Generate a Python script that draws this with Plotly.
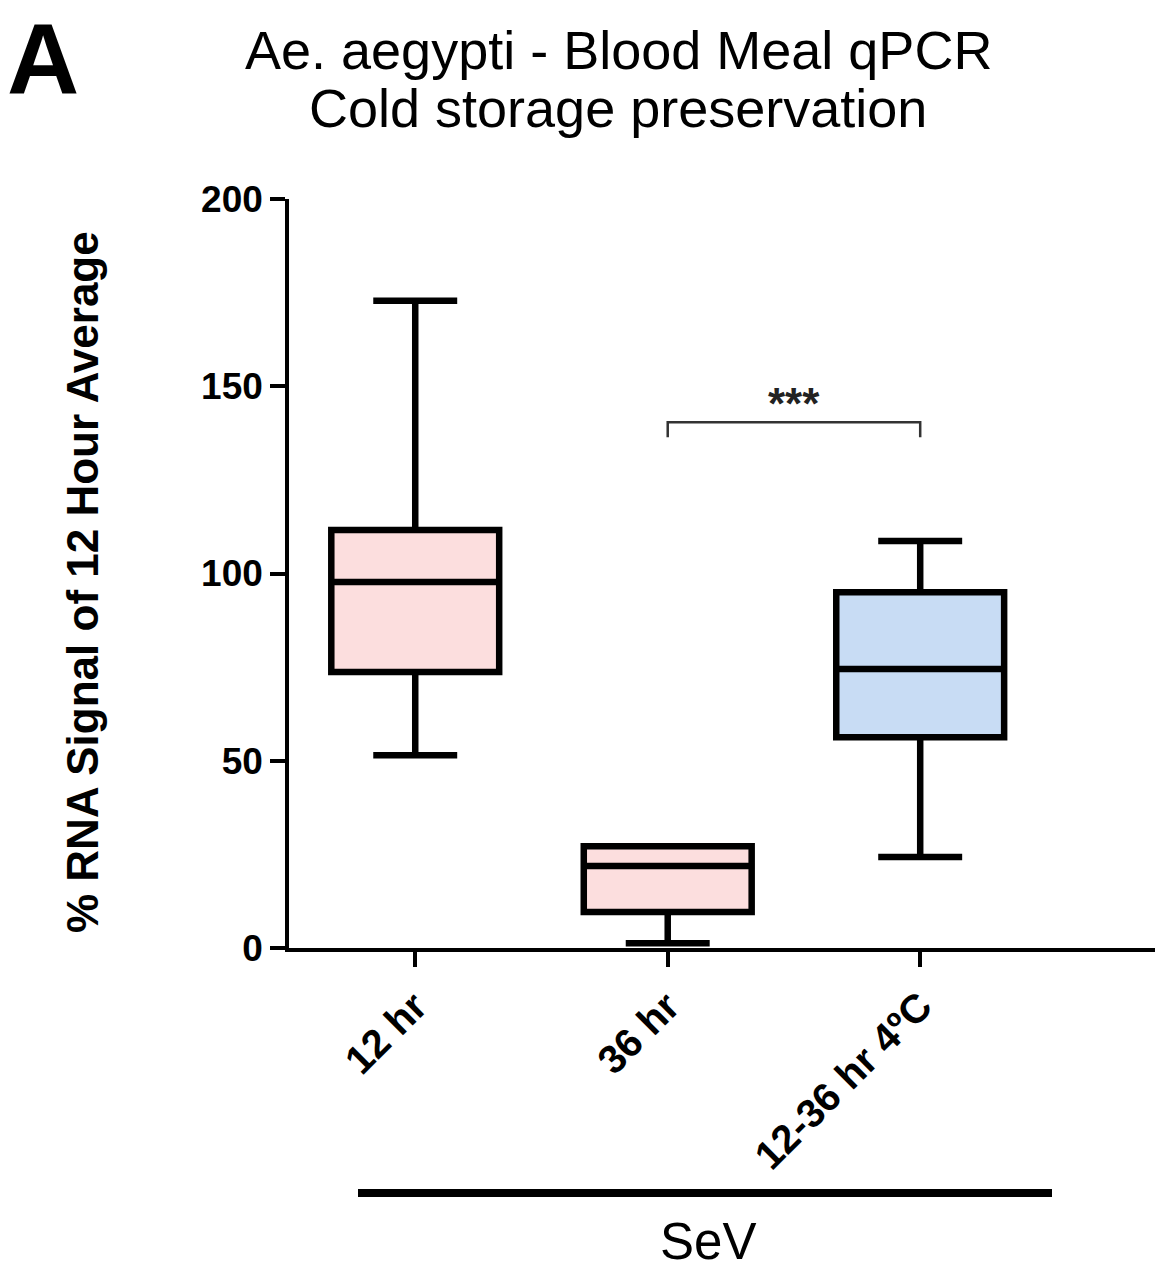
import plotly.graph_objects as go

categories = ["12 hr", "36 hr", "12-36 hr 4ºC"]
lower_whisker = [51.5, 1.3, 24.3]
q1_vals = [73.7, 9.6, 56.3]
medians = [97.7, 21.9, 74.5]
q3_vals = [111.6, 27.2, 95.0]
upper_whisker = [172.8, 27.2, 108.7]
fill_colors = ["#FCDEDE", "#FCDEDE", "#C8DCF4"]
y_ticks = [0, 50, 100, 150, 200]

W, H = 1156, 1273
L, R, T, B = 289, 1, 199, 325
pw, ph = W - L - R, H - T - B

def px(x):
    return (x - L) / pw

def py(y):
    return (H - B - y) / ph

fig = go.Figure()
for i, cat in enumerate(categories):
    fig.add_trace(go.Box(
        x=[i], q1=[q1_vals[i]], median=[medians[i]], q3=[q3_vals[i]],
        lowerfence=[lower_whisker[i]], upperfence=[upper_whisker[i]],
        width=0.665, whiskerwidth=0.5, fillcolor=fill_colors[i],
        line=dict(color="black", width=6.5), boxpoints=False, name=cat,
        showlegend=False, hoverinfo="skip"))

font = "Liberation Sans, Arial, sans-serif"

fig.update_layout(
    width=W, height=H, margin=dict(l=L, r=R, t=T, b=B),
    plot_bgcolor="white", paper_bgcolor="white",
    font=dict(family=font, color="black"),
    xaxis=dict(range=[-0.5, 2.93], tickmode="array", tickvals=[0, 1, 2],
               ticktext=["<b>%s</b>" % c for c in categories],
               tickangle=-45, ticks="outside", ticklen=15, tickwidth=3.5,
               tickcolor="black", showline=True, linecolor="black", linewidth=3.5,
               showgrid=False, zeroline=False,
               tickfont=dict(size=40, family=font, color="black")),
    yaxis=dict(range=[0, 200], tickvals=y_ticks,
               ticktext=["<b>%d</b>" % v for v in y_ticks],
               ticks="outside", ticklen=15, tickwidth=3.5, tickcolor="black",
               showline=True, linecolor="black", linewidth=3.5,
               showgrid=False, zeroline=False,
               tickfont=dict(size=37, family=font, color="black")),
)

# significance bracket
fig.add_shape(type="path", xref="x", yref="y",
              path="M 1,136.4 L 1,140.4 L 2,140.4 L 2,136.4",
              line=dict(color="#333333", width=2.5))
fig.add_annotation(x=1.5, y=145.5, xref="x", yref="y", text="<b>***</b>",
                   showarrow=False, xanchor="center", yanchor="middle",
                   font=dict(size=44, color="#222222", family=font))

def ann(x, y, text, size, angle=0, yanchor="middle"):
    fig.add_annotation(x=px(x), y=py(y), xref="paper", yref="paper", text=text,
                       showarrow=False, xanchor="center", yanchor=yanchor,
                       textangle=angle, font=dict(size=size, family=font, color="black"))

ann(43, 1, "<b>A</b>", 100, yanchor="top")
ann(618, 50, "Ae. aegypti - Blood Meal qPCR", 54)
ann(618, 108, "Cold storage preservation", 54)
ann(82, 582, "<b>% RNA Signal of 12 Hour Average</b>", 44, -90)

# SeV group bar
fig.add_shape(type="line", xref="paper", yref="paper",
              x0=px(358), x1=px(1052), y0=py(1193), y1=py(1193),
              line=dict(color="black", width=8))
ann(708, 1241, "SeV", 51)

fig.write_html("out.html")
